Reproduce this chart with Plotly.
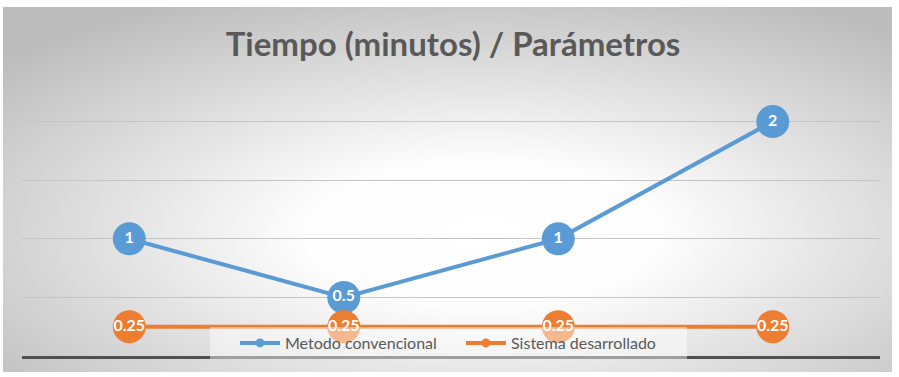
import base64
import plotly.graph_objects as go

categories = ["P1", "P2", "P3", "P4"]
convencional = [1, 0.5, 1, 2]
desarrollado = [0.25, 0.25, 0.25, 0.25]
series_names = ["Metodo convencional", "Sistema desarrollado"]
title_text = "Tiempo (minutos) / Parámetros"

BLUE = "#5B9BD5"
ORANGE = "#ED7D31"
FONT = "Lato"

svg = """<svg xmlns='http://www.w3.org/2000/svg' width='889' height='365' preserveAspectRatio='none'>
<defs><radialGradient id='g' cx='0.54' cy='0.62' r='0.72'>
<stop offset='0' stop-color='#ffffff'/>
<stop offset='0.28' stop-color='#fdfdfd'/>
<stop offset='1' stop-color='#bcbcbc'/>
</radialGradient></defs>
<rect width='889' height='365' fill='url(#g)'/>
</svg>"""
bg_src = "data:image/svg+xml;base64," + base64.b64encode(svg.encode()).decode()


def fmt(v):
    return ("%g" % v)


fig = go.Figure()
for name, vals, col in [(series_names[0], convencional, BLUE), (series_names[1], desarrollado, ORANGE)]:
    fig.add_trace(go.Scatter(
        x=categories, y=vals, name=name, mode="lines+markers+text",
        line=dict(color=col, width=4),
        marker=dict(color=col, size=33),
        text=[fmt(v) for v in vals], textposition="middle center",
        textfont=dict(family=FONT, size=16, color="white", weight="bold"),
        showlegend=False, cliponaxis=False, hoverinfo="skip",
    ))
for name, col in [(series_names[0], BLUE), (series_names[1], ORANGE)]:
    fig.add_trace(go.Scatter(
        x=[None], y=[None], name=name, mode="lines+markers",
        line=dict(color=col, width=4), marker=dict(color=col, size=9),
        showlegend=True,
    ))

L, R, T, B = 22, 19, 63, 21
W, H = 899, 377
pw, ph = W - L - R, H - T - B


def px(xp):
    return (xp - L) / pw


def py(yp):
    return (356 - yp) / ph


fig.update_layout(
    width=W, height=H,
    margin=dict(l=L, r=R, t=T, b=B, pad=0),
    paper_bgcolor="white", plot_bgcolor="rgba(0,0,0,0)",
    title=dict(text=title_text, x=px(453), xref="paper", xanchor="center",
               y=1 - 44 / H, yanchor="middle",
               font=dict(family=FONT, size=33, color="#595959", weight="bold")),
    xaxis=dict(showticklabels=False, ticks="", showgrid=False, zeroline=False,
               showline=True, linecolor="#505050", linewidth=3,
               range=[-0.5, 3.5]),
    yaxis=dict(range=[0, 2.5], dtick=0.5, showticklabels=False, ticks="",
               showgrid=True, gridcolor="#c4c4c4", gridwidth=1, zeroline=False),
    legend=dict(orientation="h", x=px(235), xanchor="left",
                y=py(326), yanchor="top",
                itemwidth=40,
                entrywidth=171, entrywidthmode="pixels",
                bgcolor="rgba(0,0,0,0)",
                font=dict(family=FONT, size=16, color="#595959")),
    shapes=[dict(type="rect", xref="paper", yref="paper",
                 x0=px(210), x1=px(687), y0=py(359), y1=py(327),
                 fillcolor="rgba(255,255,255,0.45)", line=dict(width=0),
                 layer="above")],
    images=[dict(source=bg_src, xref="paper", yref="paper",
                 x=px(3), y=py(7),
                 sizex=889 / pw, sizey=365 / ph,
                 xanchor="left", yanchor="top", sizing="stretch", layer="below")],
    showlegend=True,
)

fig.write_html("out.html", config={"displayModeBar": False},
               post_script="document.body.style.margin='0';")
